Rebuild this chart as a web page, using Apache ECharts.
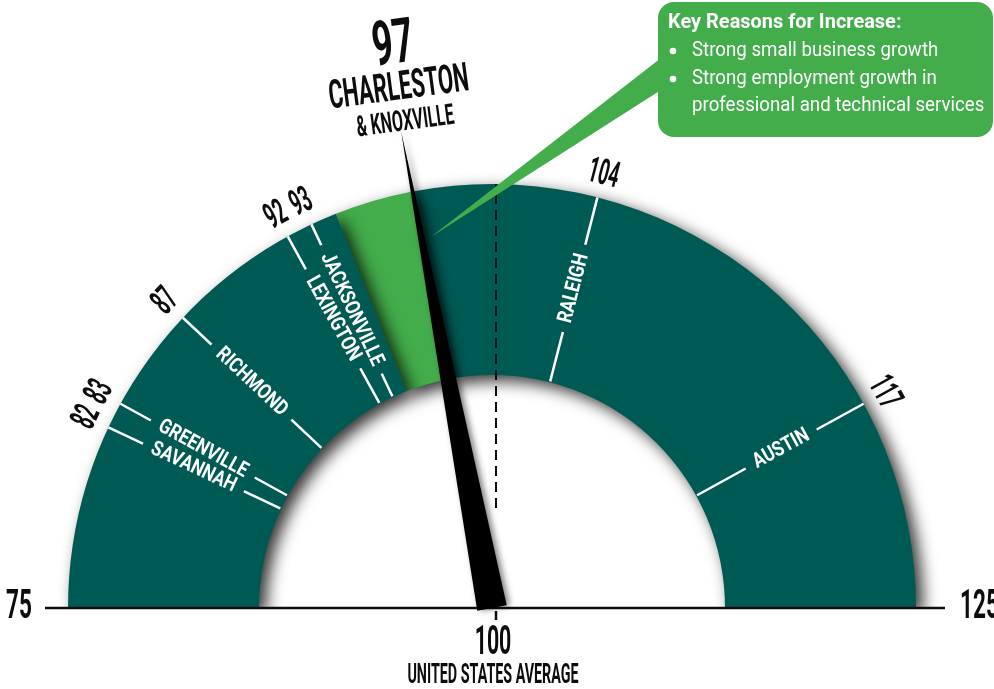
<!DOCTYPE html>
<html>
<head>
<meta charset="utf-8">
<script src="https://cdn.jsdelivr.net/npm/echarts@6/dist/echarts.min.js"></script>
<style>html,body{margin:0;padding:0;background:#fff}#c{width:994px;height:689px}</style>
</head>
<body>
<div id="c"></div>
<script>
// ---------- data ----------
const scaleRange = [75, 125];
const cityNames = ['SAVANNAH', 'GREENVILLE', 'RICHMOND', 'LEXINGTON', 'JACKSONVILLE', 'RALEIGH', 'AUSTIN'];
const cityValues = [82, 83, 87, 92, 93, 104, 117];
const featuredNames = ['CHARLESTON', '& KNOXVILLE'];
const featuredValue = 97;
const averageValue = 100;
const averageLabel = 'UNITED STATES AVERAGE';
const increaseBand = [94, 97];
const calloutTitle = 'Key Reasons for Increase:';
const calloutBullets = [
  ['Strong small business growth'],
  ['Strong employment growth in', 'professional and technical services']
];

// ---------- layout / style ----------
const CX = 492, CY = 608;
const R_OUT = 424, BAND = 191, R_IN = R_OUT - BAND;
const R_MID = 330, R_NUM = 447, R_DASH_IN = 100, R_BASE = 450;
const R_NEEDLE = 485, R_FEAT = 530, R_WEDGE = 378;
const TEAL = '#005a54', GREEN = '#43ad4b', INK = '#0d0d0d';
const FONT = 'Roboto';
const span = scaleRange[1] - scaleRange[0];
const frac = v => (v - scaleRange[0]) / span;

const chart = echarts.init(document.getElementById('c'), null, {renderer: 'canvas'});

const bodyText = {fill: '#fff', fontFamily: FONT, fontSize: 21, verticalAlign: 'middle'};

const option = {
  animation: false,
  backgroundColor: '#fff',
  polar: {center: [CX, CY], radius: R_OUT},
  angleAxis: {type: 'value', min: scaleRange[0], max: scaleRange[0] + 2 * span, startAngle: 180, clockwise: true, show: false},
  radiusAxis: {type: 'value', min: 0, max: R_OUT, show: false},
  graphic: [
    // cover below the baseline (clips the band's drop shadow)
    {type: 'rect', z: 10, silent: true, shape: {x: 0, y: CY + 1, width: 994, height: 100}, style: {fill: '#fff'}},
    // callout box
    {type: 'rect', z: 15, shape: {x: 658, y: 2, width: 335, height: 135, r: 16}, style: {fill: GREEN}},
    {type: 'text', z: 16, x: 668, y: 23, scaleX: 0.95, style: Object.assign({text: calloutTitle, fontWeight: 'bold'}, bodyText)},
    {type: 'circle', z: 16, shape: {cx: 673, cy: 51, r: 3.3}, style: {fill: '#fff'}},
    {type: 'circle', z: 16, shape: {cx: 673, cy: 79, r: 3.3}, style: {fill: '#fff'}},
    {type: 'text', z: 16, x: 692, y: 51, scaleX: 0.89, style: Object.assign({text: calloutBullets[0][0]}, bodyText)},
    {type: 'text', z: 16, x: 692, y: 79, scaleX: 0.89, style: Object.assign({text: calloutBullets[1][0]}, bodyText)},
    {type: 'text', z: 16, x: 692, y: 106, scaleX: 0.89, style: Object.assign({text: calloutBullets[1][1]}, bodyText)}
  ],
  series: [
    // the band
    {
      type: 'gauge', z: 1, center: [CX, CY], radius: R_OUT,
      startAngle: 180, endAngle: 0, min: scaleRange[0], max: scaleRange[1],
      axisLine: {lineStyle: {width: BAND, color: [[frac(increaseBand[0]), TEAL], [frac(increaseBand[1]), GREEN], [1, TEAL]],
        shadowColor: 'rgba(0,0,0,0.8)', shadowBlur: 16, shadowOffsetX: 7, shadowOffsetY: 6}},
      axisTick: {show: false}, splitLine: {show: false}, axisLabel: {show: false},
      pointer: {show: false}, anchor: {show: false}, title: {show: false}, detail: {show: false},
      data: [{value: featuredValue}]
    },
    // city ticks and labels
    {
      type: 'custom', coordinateSystem: 'polar', z: 5, silent: true,
      data: cityValues.map((v, i) => [0, v, i]),
      renderItem(params, api) {
        const v = api.value(1), i = api.value(2);
        const pIn = api.coord([R_IN + 1, v]), pOut = api.coord([R_OUT, v]);
        const pMid = api.coord([R_MID, v]), pNum = api.coord([R_NUM, v]);
        const ang = Math.atan2(pIn[1] - pOut[1], pOut[0] - pIn[0]);
        const left = ang > Math.PI / 2;
        return {type: 'group', children: [
          {type: 'line', shape: {x1: pIn[0], y1: pIn[1], x2: pOut[0], y2: pOut[1]}, style: {stroke: '#fff', lineWidth: 2.5}},
          {type: 'text', x: pMid[0], y: pMid[1], rotation: left ? ang - Math.PI : ang, scaleX: 0.82,
            style: {text: cityNames[i], fill: '#fff', fontFamily: FONT, fontWeight: 'bold', fontSize: 21,
              align: 'center', verticalAlign: 'middle', backgroundColor: TEAL, padding: [0, 12], lineHeight: 16}},
          {type: 'text', x: pNum[0], y: pNum[1], rotation: ang - Math.PI / 2, scaleX: 0.5,
            style: {text: String(v), fill: INK, fontFamily: FONT, fontWeight: 'bold', fontSize: 36, align: 'center', verticalAlign: 'middle'}}
        ]};
      }
    },
    // average: dashed line, baseline, end labels, 100 label
    {
      type: 'custom', coordinateSystem: 'polar', z: 12, silent: true,
      data: [[0, averageValue]],
      renderItem(params, api) {
        const v = api.value(1);
        const a = api.coord([R_DASH_IN, v]), b = api.coord([R_OUT, v]), c = api.coord([0, v]);
        const l = api.coord([R_BASE - 3, scaleRange[0]]), r = api.coord([R_BASE + 3, scaleRange[1]]);
        const lt = api.coord([R_BASE + 10, scaleRange[0]]), rt = api.coord([R_BASE + 18, scaleRange[1]]);
        const big = {fill: INK, fontFamily: FONT, fontWeight: 'bold', fontSize: 41, verticalAlign: 'middle'};
        return {type: 'group', children: [
          {type: 'line', shape: {x1: a[0] + 4, y1: a[1], x2: b[0] + 4, y2: b[1]}, style: {stroke: INK, lineWidth: 2, lineDash: [10, 6]}},
          {type: 'line', shape: {x1: l[0], y1: l[1], x2: r[0], y2: r[1]}, style: {stroke: INK, lineWidth: 2.5}},
          {type: 'line', shape: {x1: c[0] + 4, y1: c[1] + 3, x2: c[0] + 4, y2: c[1] + 12}, style: {stroke: INK, lineWidth: 2.5}},
          {type: 'text', x: lt[0], y: lt[1], scaleX: 0.55, style: Object.assign({text: String(scaleRange[0]), align: 'right'}, big)},
          {type: 'text', x: rt[0], y: rt[1], scaleX: 0.55, style: Object.assign({text: String(scaleRange[1]), align: 'left'}, big)},
          {type: 'text', x: c[0] + 1, y: c[1] + 36, scaleX: 0.52, style: Object.assign({text: String(v), align: 'center'}, big)},
          {type: 'text', x: c[0] + 1, y: c[1] + 68, scaleX: 0.53, style: {text: averageLabel, fill: INK, fontFamily: FONT, fontWeight: 'bold', fontSize: 27, align: 'center', verticalAlign: 'middle'}}
        ]};
      }
    },
    // featured label + callout wedge
    {
      type: 'custom', coordinateSystem: 'polar', z: 15, silent: true,
      data: [[0, featuredValue]],
      renderItem(params, api) {
        const v = api.value(1);
        const p = api.coord([R_FEAT, v]), c = api.coord([0, v]), w = api.coord([R_WEDGE, v]);
        const ang = Math.atan2(c[1] - p[1], p[0] - c[0]);
        const t = {fill: INK, fontFamily: FONT, fontWeight: 'bold', align: 'center', verticalAlign: 'middle'};
        return {type: 'group', children: [
          {type: 'polygon', shape: {points: [[w[0] + 10, w[1]], [661, 58], [661, 90]]}, style: {fill: GREEN}},
          {type: 'group', x: p[0] + 6, y: p[1], rotation: (ang - Math.PI / 2) * 0.7, children: [
            {type: 'text', x: 0, y: -40, scaleX: 0.58, style: Object.assign({text: String(v), fontSize: 62}, t)},
            {type: 'text', x: 0, y: 2, scaleX: 0.55, style: Object.assign({text: featuredNames[0], fontSize: 40}, t)},
            {type: 'text', x: 2, y: 36, scaleX: 0.55, style: Object.assign({text: featuredNames[1], fontSize: 29}, t)}
          ]}
        ]};
      }
    },
    // needle
    {
      type: 'gauge', z: 20, center: [CX, CY], radius: R_NEEDLE,
      startAngle: 180, endAngle: 0, min: scaleRange[0], max: scaleRange[1],
      axisLine: {show: false}, axisTick: {show: false}, splitLine: {show: false}, axisLabel: {show: false},
      pointer: {show: true, icon: 'path://M50 0 L100 1000 L0 1000 Z', length: '100%', width: 30, offsetCenter: [0, 0],
        itemStyle: {color: '#000', shadowColor: 'rgba(0,0,0,0.5)', shadowBlur: 6, shadowOffsetX: 3}},
      anchor: {show: false}, title: {show: false}, detail: {show: false},
      data: [{value: featuredValue}]
    }
  ]
};
chart.setOption(option);
</script>
</body>
</html>
